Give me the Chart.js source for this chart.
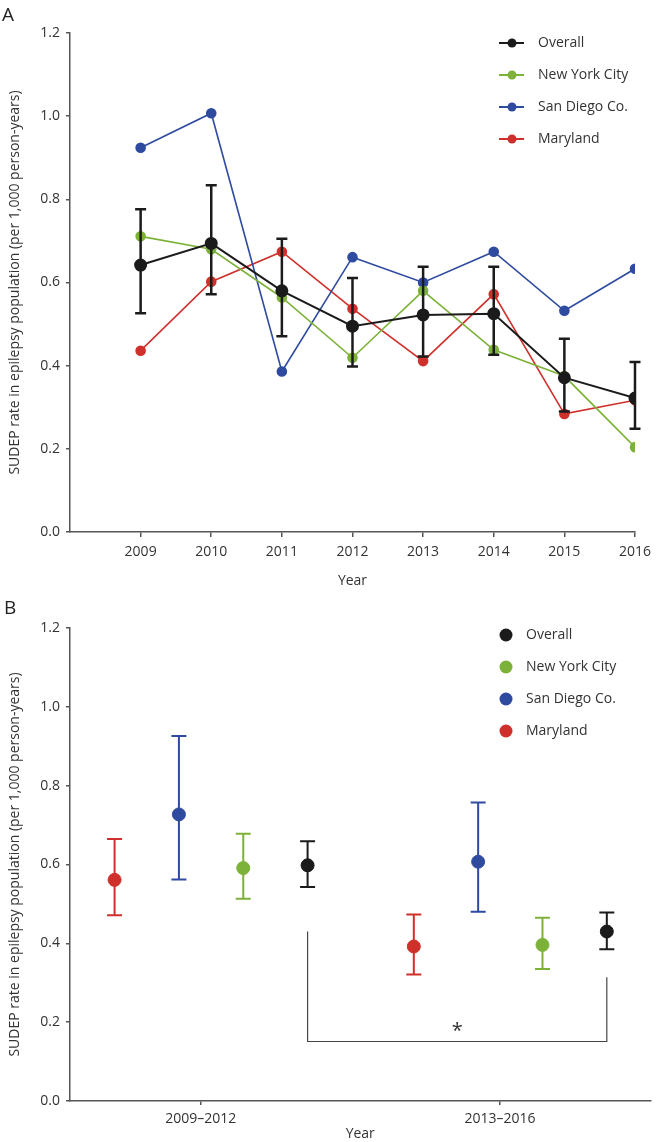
<!DOCTYPE html>
<html>
<head>
<meta charset="utf-8">
<script src="https://cdn.jsdelivr.net/npm/chart.js@4.4.1/dist/chart.umd.min.js"></script>
<style>
body{margin:0;background:#fff;font-family:"Open Sans",sans-serif;}
#wrap{position:relative;width:658px;height:1142px;overflow:hidden;}
canvas{position:absolute;left:0;}
.panel{position:absolute;font-size:19px;line-height:20px;color:#222;}
</style>
</head>
<body>
<div id="wrap">
  <canvas id="chartA" width="658" height="595" style="top:0"></canvas>
  <canvas id="chartB" width="658" height="547" style="top:595px"></canvas>
  <div class="panel" style="left:2px;top:4px">A</div>
  <div class="panel" style="left:4px;top:597px">B</div>
</div>
<script>
// panel A: yearly rates
const years = [2009, 2010, 2011, 2012, 2013, 2014, 2015, 2016];
const overall   = [0.642, 0.694, 0.580, 0.495, 0.522, 0.525, 0.371, 0.322];
const overallHi = [0.776, 0.834, 0.705, 0.611, 0.638, 0.638, 0.465, 0.409];
const overallLo = [0.526, 0.572, 0.471, 0.398, 0.422, 0.426, 0.290, 0.248];
const nyc       = [0.711, 0.680, 0.564, 0.419, 0.580, 0.438, 0.375, 0.204];
const sanDiego  = [0.924, 1.007, 0.386, 0.661, 0.600, 0.674, 0.532, 0.633];
const maryland  = [0.436, 0.602, 0.674, 0.537, 0.411, 0.572, 0.284, 0.317];

// panel B: pooled periods
const periods = ['2009–2012', '2013–2016'];
const pOverall   = [0.598, 0.430];
const pOverallHi = [0.659, 0.478];
const pOverallLo = [0.543, 0.385];
const pNyc       = [0.591, 0.396];
const pNycHi     = [0.678, 0.465];
const pNycLo     = [0.513, 0.335];
const pSanDiego   = [0.727, 0.607];
const pSanDiegoHi = [0.926, 0.757];
const pSanDiegoLo = [0.562, 0.480];
const pMaryland   = [0.561, 0.392];
const pMarylandHi = [0.665, 0.473];
const pMarylandLo = [0.471, 0.321];
const bracketTops = [0.430, 0.314];
const bracketLevel = 0.151;

const names = ['Overall', 'New York City', 'San Diego Co.', 'Maryland'];
const colors = ['#1b1b1b', '#7db23a', '#2f4b9f', '#d0302b'];
const dodge = [0.357, 0.142, -0.073, -0.288];  // x offset within a period group

const txt = '#333';
const font = {family: '"Open Sans", sans-serif', size: 14};
const yTitle = 'SUDEP rate in epilepsy population (per 1,000 person-years)';

const errorBars = {
  id: 'errorBars',
  afterDatasetDraw(chart, args) {
    const ds = chart.data.datasets[args.index];
    if (!ds.errHi) return;
    const ctx = chart.ctx, y = chart.scales.y, c = ds.capHalf;
    ctx.save();
    ctx.strokeStyle = ds.borderColor;
    ctx.lineWidth = ds.errWidth;
    args.meta.data.forEach((pt, i) => {
      const yt = y.getPixelForValue(ds.errHi[i]);
      const yb = y.getPixelForValue(ds.errLo[i]);
      ctx.beginPath();
      ctx.moveTo(pt.x, yt); ctx.lineTo(pt.x, yb);
      ctx.moveTo(pt.x - c, yt); ctx.lineTo(pt.x + c, yt);
      ctx.moveTo(pt.x - c, yb); ctx.lineTo(pt.x + c, yb);
      ctx.stroke();
    });
    ctx.restore();
  }
};

const sideLegend = {
  id: 'sideLegend',
  afterDraw(chart, args, opts) {
    const ctx = chart.ctx;
    ctx.save();
    ctx.font = '14px "Open Sans", sans-serif';
    ctx.textBaseline = 'middle';
    names.forEach((n, i) => {
      const y = opts.y + i * opts.gap;
      ctx.fillStyle = colors[i];
      ctx.strokeStyle = colors[i];
      if (opts.line) {
        ctx.lineWidth = 2;
        ctx.beginPath(); ctx.moveTo(opts.x - 13, y); ctx.lineTo(opts.x + 12, y); ctx.stroke();
      }
      ctx.beginPath(); ctx.arc(opts.x, y, opts.r, 0, Math.PI * 2); ctx.fill();
      ctx.fillStyle = txt;
      ctx.fillText(n, opts.x + opts.textGap, y);
    });
    ctx.restore();
  }
};

function yScale(w) {
  return {
    min: 0, max: 1.2,
    afterFit: s => { s.width = w; },
    ticks: {stepSize: 0.2, font, color: txt, padding: 6, callback: v => v.toFixed(1)},
    grid: {drawOnChartArea: false, tickLength: 4, color: '#555', lineWidth: 1.5},
    border: {color: '#555', width: 1.5},
    title: {display: true, text: yTitle, font, color: txt, padding: {top: 7, bottom: 0}}
  };
}

function line(i, vals, extra) {
  return Object.assign({
    label: names[i],
    data: vals.map((v, k) => ({x: years[k], y: v})),
    showLine: true,
    borderColor: colors[i], backgroundColor: colors[i],
    borderWidth: 1.6, pointRadius: 4.5, pointHoverRadius: 4.5
  }, extra || {});
}

new Chart(document.getElementById('chartA'), {
  type: 'scatter',
  data: {
    datasets: [
      line(0, overall, {borderWidth: 2, pointRadius: 5.5, errHi: overallHi, errLo: overallLo, errWidth: 2.5, capHalf: 5.5}),
      line(1, nyc),
      line(2, sanDiego),
      line(3, maryland)
    ]
  },
  options: {
    responsive: false, animation: false,
    layout: {padding: {top: 33, right: 18, left: 0, bottom: 0}},
    plugins: {
      legend: {display: false}, tooltip: {enabled: false},
      sideLegend: {x: 512, y: 43, gap: 32, r: 4.5, textGap: 26, line: true}
    },
    scales: {
      x: {
        type: 'linear', min: 2008, max: 2016,
        afterBuildTicks: s => { s.ticks = years.map(v => ({value: v})); },
        afterFit: s => { s.height = 63; },
        ticks: {font, color: txt, padding: 7, maxRotation: 0, autoSkip: false, callback: v => String(v)},
        grid: {drawOnChartArea: false, tickLength: 5, color: '#555', lineWidth: 1.5},
        border: {color: '#555', width: 1.5},
        title: {display: true, text: 'Year', font, color: txt, padding: {top: 0, bottom: 6}}
      },
      y: yScale(70)
    }
  },
  plugins: [errorBars, sideLegend]
});

function group(i, vals, hi, lo) {
  return {
    label: names[i],
    data: vals.map((v, k) => ({x: k + 1 + dodge[i], y: v})),
    borderColor: colors[i], backgroundColor: colors[i],
    pointRadius: 6.5, pointHoverRadius: 6.5,
    errHi: hi, errLo: lo, errWidth: 2, capHalf: 7.5
  };
}

const asterisk = {
  id: 'asterisk',
  afterDraw(chart) {
    const ctx = chart.ctx, x = chart.scales.x, y = chart.scales.y;
    const mid = (x.getPixelForValue(1 + dodge[0]) + x.getPixelForValue(2 + dodge[0])) / 2;
    ctx.save();
    ctx.font = '20px "Open Sans", sans-serif';
    ctx.fillStyle = txt;
    ctx.textAlign = 'center';
    ctx.textBaseline = 'middle';
    ctx.fillText('*', mid, y.getPixelForValue(bracketLevel) - 10);
    ctx.restore();
  }
};

new Chart(document.getElementById('chartB'), {
  type: 'scatter',
  data: {
    datasets: [
      group(0, pOverall, pOverallHi, pOverallLo),
      group(1, pNyc, pNycHi, pNycLo),
      group(2, pSanDiego, pSanDiegoHi, pSanDiegoLo),
      group(3, pMaryland, pMarylandHi, pMarylandLo),
      {
        label: 'bracket',
        data: [
          {x: 1 + dodge[0], y: bracketTops[0]}, {x: 1 + dodge[0], y: bracketLevel},
          {x: 2 + dodge[0], y: bracketLevel}, {x: 2 + dodge[0], y: bracketTops[1]}
        ],
        showLine: true, borderColor: '#444', borderWidth: 1.2, pointRadius: 0
      }
    ]
  },
  options: {
    responsive: false, animation: false,
    layout: {padding: {top: 33, right: 7, left: 0, bottom: 0}},
    plugins: {
      legend: {display: false}, tooltip: {enabled: false},
      sideLegend: {x: 506, y: 40, gap: 32, r: 6.5, textGap: 20, line: false}
    },
    scales: {
      x: {
        type: 'linear', min: 0.563, max: 2.503,
        afterBuildTicks: s => { s.ticks = periods.map((p, k) => ({value: k + 1})); },
        afterFit: s => { s.height = 41; },
        ticks: {font, color: txt, padding: 6, maxRotation: 0, autoSkip: false, callback: v => periods[Math.round(v) - 1]},
        grid: {drawOnChartArea: false, tickLength: 4, color: '#555', lineWidth: 1.5},
        border: {color: '#555', width: 1.5},
        title: {display: true, text: 'Year', font, color: txt, padding: {top: 0, bottom: 0}}
      },
      y: yScale(70)
    }
  },
  plugins: [errorBars, sideLegend, asterisk]
});
</script>
</body>
</html>
